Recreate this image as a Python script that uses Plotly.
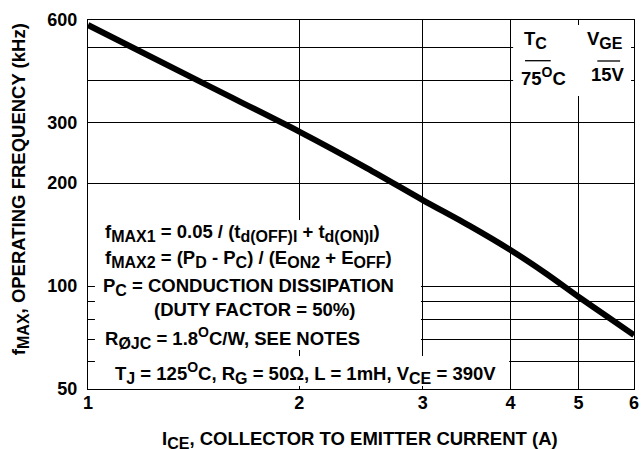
import plotly.graph_objects as go

# ---- data ----
current_a = [1.0, 1.5, 2.0, 2.5, 3.0, 3.5, 4.0, 4.5, 5.0, 5.5, 6.0]
fmax_khz = [580, 381, 283, 221, 178.5, 150, 127.5, 108.7, 93.1, 81.3, 71.9]

x_tick_vals = [1, 2, 3, 4, 5, 6]
x_tick_text = ["1", "2", "3", "4", "5", "6"]
y_tick_vals = [50, 60, 70, 80, 90, 100, 200, 300, 400, 500, 600]
y_tick_text = ["50", "", "", "", "", "100", "200", "300", "", "", "600"]

SUB = '<sub><span style="font-size:16px">{}</span></sub>'
SUP = '<sup><span style="font-size:14px">{}</span></sup>'

x_title = "I" + SUB.format("CE") + ", COLLECTOR TO EMITTER CURRENT (A)"
y_title = "f" + SUB.format("MAX") + ", OPERATING FREQUENCY (kHz)"

note_lines = [
    "f" + SUB.format("MAX1") + " = 0.05 / (t" + SUB.format("d(OFF)I") + " + t" + SUB.format("d(ON)I") + ")",
    "f" + SUB.format("MAX2") + " = (P" + SUB.format("D") + " - P" + SUB.format("C") + ") / (E" + SUB.format("ON2") + " + E" + SUB.format("OFF") + ")",
    "P" + SUB.format("C") + " = CONDUCTION DISSIPATION",
    "(DUTY FACTOR = 50%)",
    "R" + SUB.format("ØJC") + " = 1.8" + SUP.format("O") + "C/W, SEE NOTES",
    "T" + SUB.format("J") + " = 125" + SUP.format("O") + "C, R" + SUB.format("G") + " = 50Ω, L = 1mH, V" + SUB.format("CE") + " = 390V",
]
cond_heads = ["T" + SUB.format("C"), "V" + SUB.format("GE")]
cond_values = ["75" + SUP.format("O") + "C", "15V"]

FONT = "Liberation Sans, Arial, sans-serif"
FS = 18.5

fig = go.Figure()
fig.add_trace(go.Scatter(x=current_a, y=fmax_khz, mode="lines",
                         line=dict(color="black", width=6, shape="spline", smoothing=0.8),
                         showlegend=False, hoverinfo="skip"))

axis_common = dict(
    type="log", showline=True, linecolor="black", linewidth=1.4, mirror=True,
    showgrid=True, gridcolor="black", gridwidth=1.1, zeroline=False, ticks="",
    ticklabeloverflow="allow",
    tickfont=dict(family=FONT, size=18, color="black", weight="bold"),
)
fig.update_xaxes(range=[0, 0.778151], tickmode="array", tickvals=x_tick_vals,
                 ticktext=x_tick_text, ticklabelstandoff=-3, **axis_common)
fig.update_yaxes(range=[1.69897, 2.778151], tickmode="array", tickvals=y_tick_vals,
                 ticktext=y_tick_text, ticklabelstandoff=6, **axis_common)

# white panels behind the notes (they hide parts of the grid)
panels = [
    (0.0127, 0.6098, 0.1057, 0.458),
    (0.0127, 0.7713, 0.0081, 0.0894),
    (0.7786, 0.9946, 0.794, 0.9865),
]
for x0, x1, y0, y1 in panels:
    fig.add_shape(type="rect", xref="paper", yref="paper", x0=x0, x1=x1, y0=y0, y1=y1,
                  fillcolor="white", line=dict(width=0), layer="above")

# fraction bars in the condition table
for x0, x1, y in [(0.8004, 0.8475, 0.8897), (0.9328, 0.9746, 0.8889)]:
    fig.add_shape(type="line", xref="paper", yref="paper", x0=x0, x1=x1, y0=y, y1=y,
                  line=dict(color="black", width=1.3), layer="above")

tfont = dict(family=FONT, size=FS, color="black", weight="bold")
annots = []
note_pos = [
    (0.0272, 0.4227),
    (0.0272, 0.3523),
    (0.0236, 0.2764),
    (0.1180, 0.2141),
    (0.0272, 0.1382),
    (0.0454, 0.0445),
]
for txt, (x, y) in zip(note_lines, note_pos):
    annots.append(dict(text=txt, x=x, y=y, xref="paper", yref="paper", xanchor="left",
                       yanchor="middle", showarrow=False, font=tfont))

for txt, (x, y) in zip(cond_heads, [(0.8203, 0.9450), (0.9474, 0.9450)]):
    annots.append(dict(text=txt, x=x, y=y, xref="paper", yref="paper", xanchor="center",
                       yanchor="middle", showarrow=False, font=tfont))
for txt, (x, y) in zip(cond_values, [(0.8348, 0.8470), (0.9528, 0.8510)]):
    annots.append(dict(text=txt, x=x, y=y, xref="paper", yref="paper", xanchor="center",
                       yanchor="middle", showarrow=False, font=tfont))

annots.append(dict(text=x_title, x=0.4973, y=-0.137, xref="paper", yref="paper",
                   xanchor="center", yanchor="middle", showarrow=False, font=tfont))
annots.append(dict(text=y_title, x=-0.1243, y=0.5420, xref="paper", yref="paper",
                   xanchor="center", yanchor="middle", showarrow=False, textangle=-90,
                   font=tfont))

fig.update_layout(
    width=644, height=449,
    margin=dict(l=88, r=5, t=20, b=60),
    paper_bgcolor="white", plot_bgcolor="white",
    annotations=annots,
    showlegend=False,
)

# remove the default page margin and any overflow so the figure fills the window exactly
fig.write_html(
    "out.html",
    config={"displayModeBar": False},
    post_script=(
        "document.body.style.margin='0px';"
        "document.body.style.overflow='hidden';"
        "document.documentElement.style.overflow='hidden';"
    ),
)
